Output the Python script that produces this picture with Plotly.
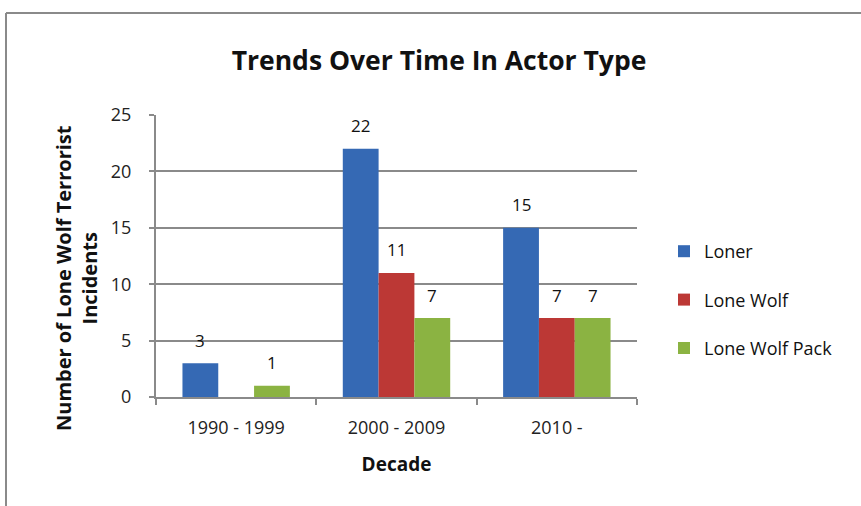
import plotly.graph_objects as go

categories = ["1990 - 1999", "2000 - 2009", "2010 -"]
series_names = ["Loner", "Lone Wolf", "Lone Wolf Pack"]
loner = [3, 22, 15]
lone_wolf = [0, 11, 7]
lone_wolf_pack = [1, 7, 7]
colors = ["#3569B4", "#BC3835", "#8BB342"]
y_ticks = [0, 5, 10, 15, 20, 25]

W, H = 861, 506
L, R, T, B = 156, 224, 115, 109
FONT = "Open Sans"
bargap = 0.33

fig = go.Figure()
all_series = [loner, lone_wolf, lone_wolf_pack]
for i, (name, vals, col) in enumerate(zip(series_names, all_series, colors)):
    fig.add_trace(go.Bar(
        x=categories, y=vals, name=name, marker=dict(color=col, line=dict(width=0)),
        legendgroup=name,
    ))

# data labels
bw = (1 - bargap) / 3
annotations = []
for i, vals in enumerate(all_series):
    for j, v in enumerate(vals):
        if v > 0:
            annotations.append(dict(
                x=j + (i - 1) * bw, y=v, xref="x", yref="y", text=str(v),
                showarrow=False, yanchor="middle", yshift=23,
                font=dict(family=FONT, size=17, color="#111"),
            ))

pw = W - L - R
ph = H - T - B

# y-axis title
annotations.append(dict(
    x=(76 - L) / pw, y=(H - B - 278) / ph, xref="paper", yref="paper",
    text="<b>Number of Lone Wolf Terrorist<br>Incidents</b>", textangle=-90,
    showarrow=False, font=dict(family=FONT, size=20, color="#111"),
    xanchor="center", yanchor="middle",
))

shapes = [
    dict(type="line", xref="paper", yref="paper",
         x0=(6 - L) / pw, x1=(6 - L) / pw, y0=(H - B - 13) / ph, y1=(H - B - 510) / ph,
         line=dict(color="#8a8a8a", width=2)),
    dict(type="line", xref="paper", yref="paper",
         x0=(6 - L) / pw, x1=(870 - L) / pw, y0=(H - B - 13) / ph, y1=(H - B - 13) / ph,
         line=dict(color="#8a8a8a", width=2)),
]

fig.update_layout(
    width=W, height=H,
    margin=dict(l=L, r=R, t=T, b=B),
    paper_bgcolor="white", plot_bgcolor="white",
    barmode="group", bargap=bargap, bargroupgap=0,
    title=dict(text="<b>Trends Over Time In Actor Type</b>", x=439 / W, xanchor="center",
               y=1 - 61 / H, yanchor="middle", yref="container",
               font=dict(family=FONT, size=26.5, color="#111")),
    font=dict(family=FONT, size=18, color="#222"),
    showlegend=True,
    legend=dict(x=(664 - L) / pw, xanchor="left", y=(H - B - 300) / ph, yanchor="middle",
                font=dict(family=FONT, size=18, color="#111"), tracegroupgap=22,
                bgcolor="rgba(0,0,0,0)"),
    annotations=annotations,
    shapes=shapes,
)
fig.update_xaxes(
    type="category", showline=True, linecolor="#8a8a8a", linewidth=2,
    ticks="outside", tickson="boundaries", ticklen=6, tickcolor="#8a8a8a", tickwidth=2,
    showgrid=False, tickfont=dict(family=FONT, size=18, color="#222"),
    ticklabelstandoff=13,
    title=dict(text="<b>Decade</b>", font=dict(family=FONT, size=19, color="#111"), standoff=20),
)
fig.update_yaxes(
    range=[0, 25], tickvals=y_ticks, showline=True, linecolor="#8a8a8a", linewidth=2,
    ticks="outside", ticklen=5, tickcolor="#8a8a8a", tickwidth=2,
    showgrid=True, gridcolor="#8a8a8a", gridwidth=2, zeroline=False,
    tickfont=dict(family=FONT, size=18, color="#222"), ticklabelstandoff=14,
)

fig.write_html("out.html", config={"displayModeBar": False},
               post_script="document.body.style.margin='0';")
